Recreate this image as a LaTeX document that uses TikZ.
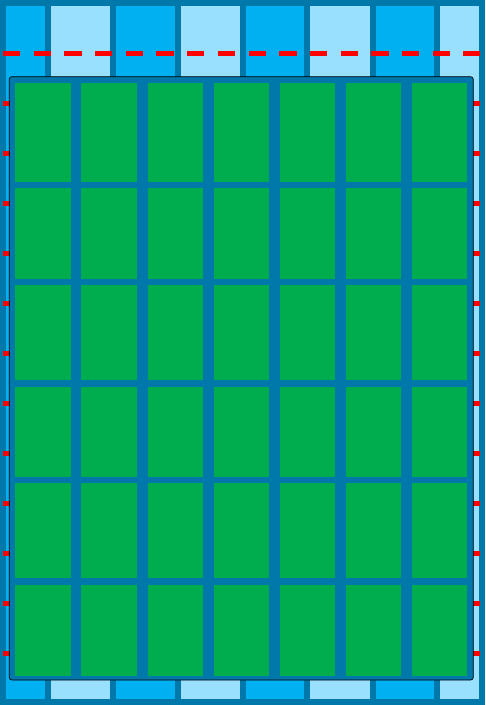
\documentclass[tikz,border=0pt]{standalone}
\usepackage{tikz}

\definecolor{frameblue}{HTML}{0078AA}
\definecolor{stripdark}{HTML}{00B0F0}
\definecolor{striplight}{HTML}{99E0FF}
\definecolor{panelgreen}{HTML}{00AD4E}
\definecolor{cutred}{HTML}{FF0000}

\begin{document}
\begin{tikzpicture}[
    x=0.02cm, y=-0.02cm,
    strip/.style={draw=frameblue, line width=0.12cm},
    darkstrip/.style={strip, fill=stripdark},
    lightstrip/.style={strip, fill=striplight},
    cutline/.style={draw=cutred, line width=0.085cm,
                    dash pattern=on 0.346cm off 0.268cm},
    frame/.style={fill=frameblue, rounded corners=1.5pt},
    panel/.style={fill=panelgreen},
]

\useasboundingbox (0,0) rectangle (485,705);

% === Background strips ===
\foreach \xa/\xb/\kind in {3/47.5/darkstrip, 47.5/113/lightstrip,
    113/177.5/darkstrip, 177.5/243/lightstrip, 243/307/darkstrip,
    307/372.5/lightstrip, 372.5/437/darkstrip, 437/482/lightstrip}
  \draw[\kind] (\xa,3) rectangle (\xb,702);

% === Dashed cut lines ===
\foreach \y in {53.5,103.5,...,653.5}
  \draw[cutline] (3,\y) -- (480,\y);

% === Green panel grid ===
\draw[frame] (9.3,76.7) rectangle (473.3,680);
\foreach \ya/\yb in {82.7/182.3, 188.3/279, 285/380.3,
                     386.7/477, 483/578.3, 585/675.7}
  \foreach \c in {0,...,6}
    \fill[panel] ({15.3+66.1*\c},\ya) rectangle ({70.8+66.1*\c},\yb);

\end{tikzpicture}
\end{document}
